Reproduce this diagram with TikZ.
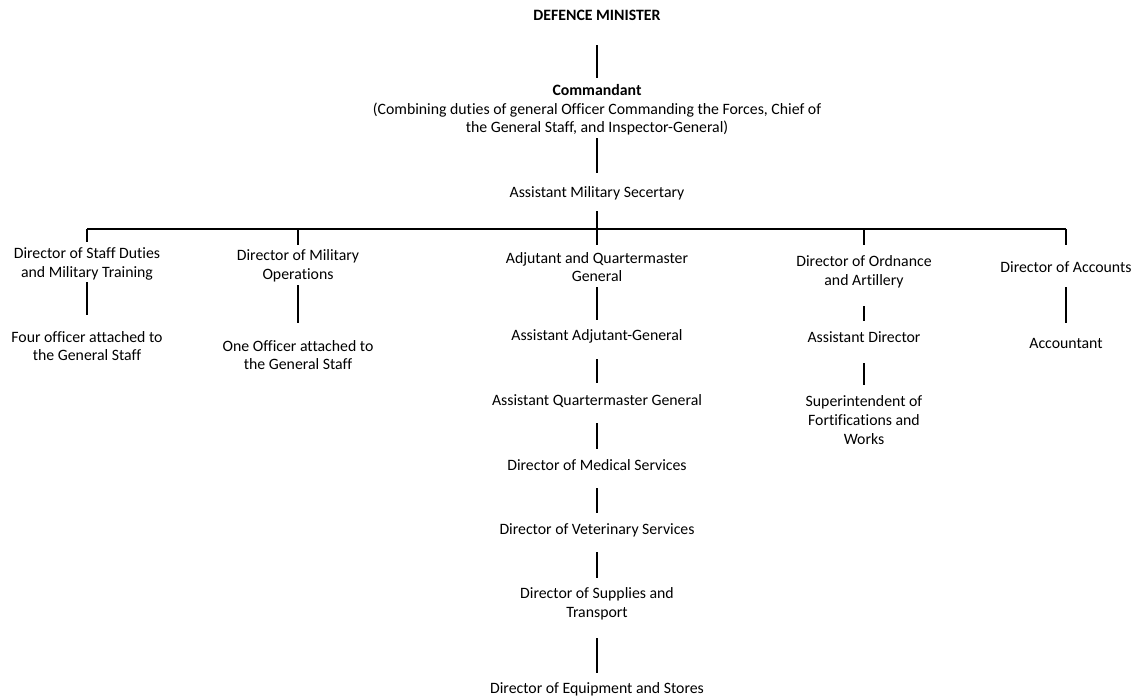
\documentclass[tikz,border=0pt]{standalone}
\usepackage{fontspec}
\setmainfont{Carlito}[Ligatures=NoCommon]
\begin{document}
\begin{tikzpicture}[x=1pt,y=-1pt,
  lbl/.style={align=center,inner sep=0pt,font=\fontsize{15.8}{18.6}\selectfont,text=black},
  conn/.style={line width=1.2pt,draw=black}]
\useasboundingbox (0,0) rectangle (1137,697);
\node[lbl,font=\fontsize{15.8}{18.6}\selectfont\bfseries] (dm) at (597,15.5) {DEFENCE MINISTER};
\node[lbl] (cmd) at (597,110) {\textbf{Commandant}\\(Combining duties of general Officer Commanding the Forces, Chief of\\the General Staff, and Inspector-General)};
\node[lbl] (ams) at (597,193) {Assistant Military Secertary};
\coordinate (b1) at (87,229);
\coordinate (b2) at (298,229);
\coordinate (b3) at (597,229);
\coordinate (b4) at (864,229);
\coordinate (b5) at (1066,229);
\node[lbl] (c1) at (87,264) {Director of Staff Duties\\and Military Training};
\node[lbl] (c1a) at (87,346) {Four officer attached to\\the General Staff};
\node[lbl] (c2) at (298,266) {Director of Military\\Operations};
\node[lbl] (c2a) at (298,355) {One Officer attached to\\the General Staff};
\node[lbl] (c3) at (597,267) {Adjutant and Quartermaster\\General};
\node[lbl] (c3a) at (597,336) {Assistant Adjutant-General};
\node[lbl] (c3b) at (597,401) {Assistant Quartermaster General};
\node[lbl] (c3c) at (597,465) {Director of Medical Services};
\node[lbl] (c3d) at (597,530) {Director of Veterinary Services};
\node[lbl] (c3e) at (597,604) {Director of Supplies and\\Transport};
\node[lbl] (c3f) at (597,689) {Director of Equipment and Stores};
\node[lbl] (c4) at (864,271.5) {Director of Ordnance\\and Artillery};
\node[lbl] (c4a) at (864,337) {Assistant Director};
\node[lbl] (c4b) at (864,420) {Superintendent of\\Fortifications and\\Works};
\node[lbl] (c5) at (1066,267) {Director of Accounts};
\node[lbl] (c5a) at (1066,343) {Accountant};
% connectors
\draw[conn,shorten <=29.5pt,shorten >=32pt] (dm.center) -- (cmd.center);
\draw[conn,shorten <=28pt,shorten >=20pt] (cmd.center) -- (ams.center);
\draw[conn,shorten <=18pt] (ams.center) -- (b3);
\draw[conn] (b1) -- (b5);
\draw[conn,shorten >=22pt] (b1) -- (c1.center);
\draw[conn,shorten >=21pt] (b2) -- (c2.center);
\draw[conn,shorten >=22pt] (b3) -- (c3.center);
\draw[conn,shorten >=26.5pt] (b4) -- (c4.center);
\draw[conn,shorten >=22pt] (b5) -- (c5.center);
\draw[conn,shorten <=18pt,shorten >=31pt] (c1.center) -- (c1a.center);
\draw[conn,shorten <=19pt,shorten >=32pt] (c2.center) -- (c2a.center);
\draw[conn,shorten <=20pt,shorten >=16pt] (c3.center) -- (c3a.center);
\draw[conn,shorten <=23pt,shorten >=18pt] (c3a.center) -- (c3b.center);
\draw[conn,shorten <=22pt,shorten >=16pt] (c3b.center) -- (c3c.center);
\draw[conn,shorten <=23pt,shorten >=17pt] (c3c.center) -- (c3d.center);
\draw[conn,shorten <=22pt,shorten >=26pt] (c3d.center) -- (c3e.center);
\draw[conn,shorten <=34pt,shorten >=16pt] (c3e.center) -- (c3f.center);
\draw[conn,shorten <=34.5pt,shorten >=16pt] (c4.center) -- (c4a.center);
\draw[conn,shorten <=26pt,shorten >=35pt] (c4a.center) -- (c4b.center);
\draw[conn,shorten <=20pt,shorten >=20pt] (c5.center) -- (c5a.center);
\end{tikzpicture}
\end{document}
